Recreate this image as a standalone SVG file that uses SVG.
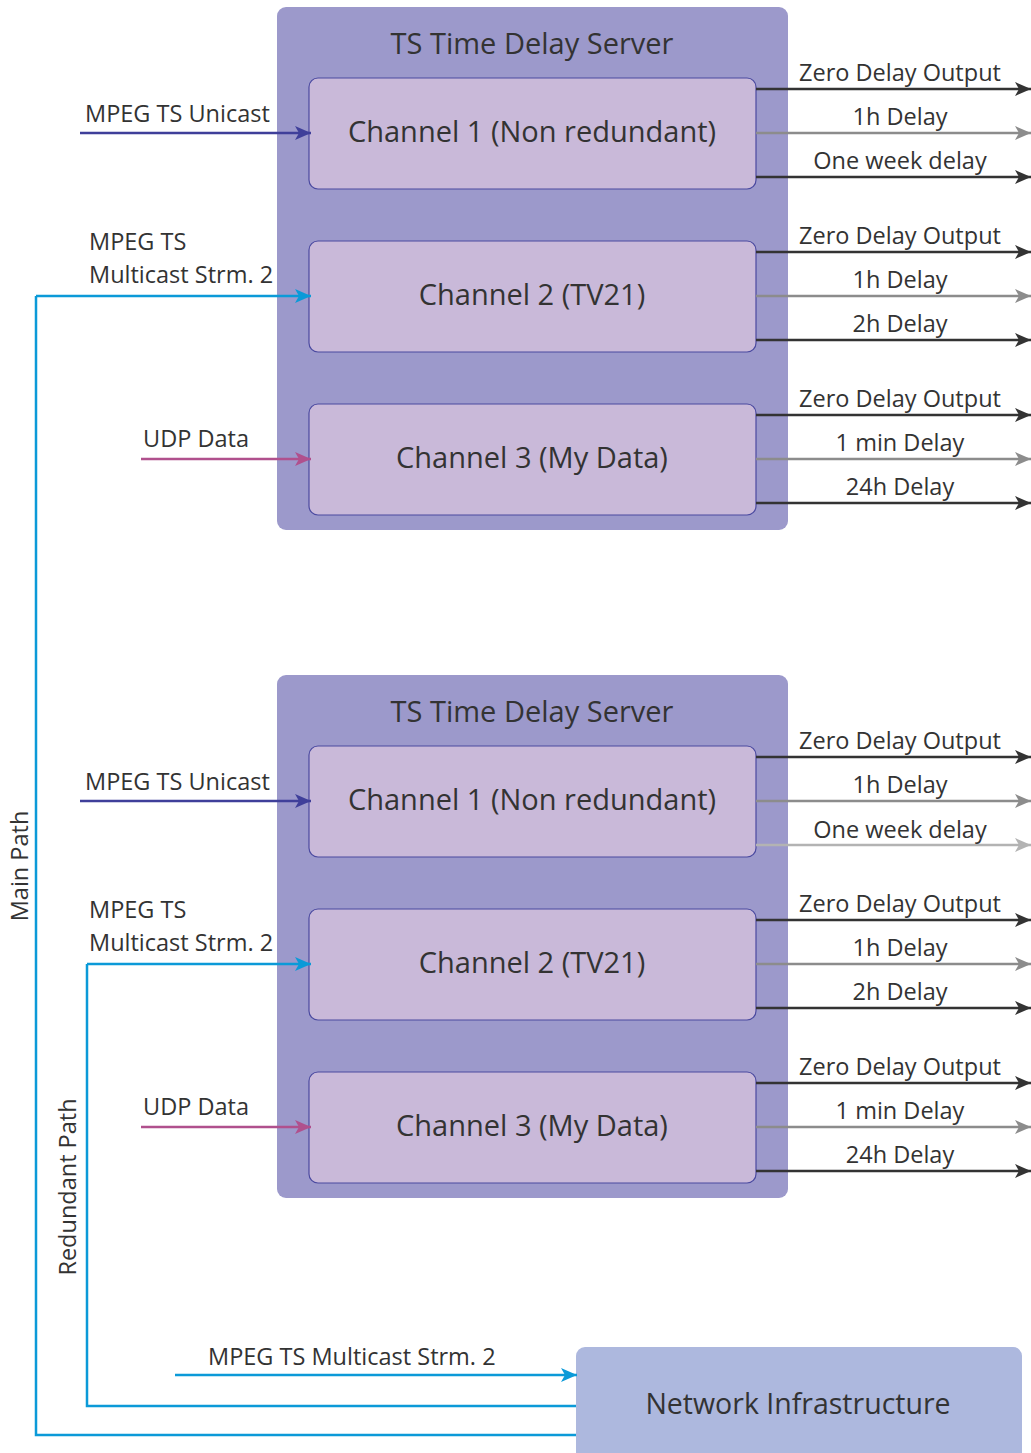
<svg xmlns="http://www.w3.org/2000/svg" width="1031" height="1453" viewBox="0 0 1031 1453">
<style>
.server{fill:#9c99cb}
.chan{fill:#c9b9d9;stroke:#4b4aa0;stroke-width:1.2}
.net{fill:#adb8de}
text{font-family:"Open Sans","Noto Sans","DejaVu Sans",sans-serif;fill:#333}
.title{font-size:29px;text-anchor:middle}
.clab{font-size:29px;text-anchor:middle}
.nlab{font-size:28.5px;text-anchor:middle}
.olab{font-size:23.5px;text-anchor:middle}
.ilab{font-size:23.5px}
.dk{stroke:#333;stroke-width:2.5;fill:none;marker-end:url(#ah-dk)}
.gr{stroke:#8c8c8c;stroke-width:2.5;fill:none;marker-end:url(#ah-gr)}
.lg{stroke:#b3b3b3;stroke-width:2.5;fill:none;marker-end:url(#ah-lg)}
.uni{stroke:#3f3f9a;stroke-width:2.5;fill:none;marker-end:url(#ah-uni)}
.udp{stroke:#b0508d;stroke-width:2.5;fill:none;marker-end:url(#ah-udp)}
.bl{stroke:#0b9ad8;stroke-width:2.5;fill:none}
.bla{stroke:#0b9ad8;stroke-width:2.5;fill:none;marker-end:url(#ah-bl)}
</style>
<defs>
<marker id="ah-dk" markerUnits="userSpaceOnUse" markerWidth="16" markerHeight="14" refX="16" refY="7" orient="auto"><path d="M0,0 L16,7 L0,14 L4,7 Z" fill="#333"/></marker>
<marker id="ah-gr" markerUnits="userSpaceOnUse" markerWidth="16" markerHeight="14" refX="16" refY="7" orient="auto"><path d="M0,0 L16,7 L0,14 L4,7 Z" fill="#8c8c8c"/></marker>
<marker id="ah-lg" markerUnits="userSpaceOnUse" markerWidth="16" markerHeight="14" refX="16" refY="7" orient="auto"><path d="M0,0 L16,7 L0,14 L4,7 Z" fill="#b3b3b3"/></marker>
<marker id="ah-uni" markerUnits="userSpaceOnUse" markerWidth="16" markerHeight="14" refX="16" refY="7" orient="auto"><path d="M0,0 L16,7 L0,14 L4,7 Z" fill="#3f3f9a"/></marker>
<marker id="ah-udp" markerUnits="userSpaceOnUse" markerWidth="16" markerHeight="14" refX="16" refY="7" orient="auto"><path d="M0,0 L16,7 L0,14 L4,7 Z" fill="#b0508d"/></marker>
<marker id="ah-bl" markerUnits="userSpaceOnUse" markerWidth="16" markerHeight="14" refX="16" refY="7" orient="auto"><path d="M0,0 L16,7 L0,14 L4,7 Z" fill="#0b9ad8"/></marker>
</defs>

<g id="server1">
<rect class="server" x="277" y="7" width="511" height="523" rx="9"/>
<text class="title" x="532" y="54">TS Time Delay Server</text>
</g>
<g id="s1-ch1"><rect class="chan" x="309" y="78" width="447" height="111" rx="9"/><text class="clab" x="532" y="142">Channel 1 (Non redundant)</text></g>
<g id="s1-ch2"><rect class="chan" x="309" y="241" width="447" height="111" rx="9"/><text class="clab" x="532" y="305">Channel 2 (TV21)</text></g>
<g id="s1-ch3"><rect class="chan" x="309" y="404" width="447" height="111" rx="9"/><text class="clab" x="532" y="468">Channel 3 (My Data)</text></g>

<g id="server2">
<rect class="server" x="277" y="675" width="511" height="523" rx="9"/>
<text class="title" x="532" y="722">TS Time Delay Server</text>
</g>
<g id="s2-ch1"><rect class="chan" x="309" y="746" width="447" height="111" rx="9"/><text class="clab" x="532" y="810">Channel 1 (Non redundant)</text></g>
<g id="s2-ch2"><rect class="chan" x="309" y="909" width="447" height="111" rx="9"/><text class="clab" x="532" y="973">Channel 2 (TV21)</text></g>
<g id="s2-ch3"><rect class="chan" x="309" y="1072" width="447" height="111" rx="9"/><text class="clab" x="532" y="1136">Channel 3 (My Data)</text></g>

<g id="network">
<rect class="net" x="576" y="1347" width="446" height="120" rx="9"/>
<text class="nlab" x="798" y="1414">Network Infrastructure</text>
</g>

<g id="connectors">
<path class="dk" d="M756,89 H1031"/><path class="gr" d="M756,133 H1031"/><path class="dk" d="M756,177 H1031"/>
<path class="dk" d="M756,252 H1031"/><path class="gr" d="M756,296 H1031"/><path class="dk" d="M756,340 H1031"/>
<path class="dk" d="M756,415 H1031"/><path class="gr" d="M756,459 H1031"/><path class="dk" d="M756,503 H1031"/>
<path class="dk" d="M756,757 H1031"/><path class="gr" d="M756,801 H1031"/><path class="lg" d="M756,845 H1031"/>
<path class="dk" d="M756,920 H1031"/><path class="gr" d="M756,964 H1031"/><path class="dk" d="M756,1008 H1031"/>
<path class="dk" d="M756,1083 H1031"/><path class="gr" d="M756,1127 H1031"/><path class="dk" d="M756,1171 H1031"/>
<path class="uni" d="M80,133 H311"/>
<path class="udp" d="M141,459 H311"/>
<path class="uni" d="M80,801 H311"/>
<path class="udp" d="M141,1127 H311"/>
<path class="bl" d="M576,1435 H36 V296"/>
<path class="bla" d="M36,296 H311"/>
<path class="bl" d="M576,1406 H87 V964"/>
<path class="bla" d="M87,964 H311"/>
<path class="bla" d="M175,1375 H577"/>

<text class="olab" x="900" y="81">Zero Delay Output</text>
<text class="olab" x="900" y="125">1h Delay</text>
<text class="olab" x="900" y="169">One week delay</text>
<text class="olab" x="900" y="244">Zero Delay Output</text>
<text class="olab" x="900" y="288">1h Delay</text>
<text class="olab" x="900" y="332">2h Delay</text>
<text class="olab" x="900" y="407">Zero Delay Output</text>
<text class="olab" x="900" y="451">1 min Delay</text>
<text class="olab" x="900" y="495">24h Delay</text>
<text class="olab" x="900" y="749">Zero Delay Output</text>
<text class="olab" x="900" y="793">1h Delay</text>
<text class="olab" x="900" y="838">One week delay</text>
<text class="olab" x="900" y="912">Zero Delay Output</text>
<text class="olab" x="900" y="956">1h Delay</text>
<text class="olab" x="900" y="1000">2h Delay</text>
<text class="olab" x="900" y="1075">Zero Delay Output</text>
<text class="olab" x="900" y="1119">1 min Delay</text>
<text class="olab" x="900" y="1163">24h Delay</text>
<text class="ilab" x="85" y="122">MPEG TS Unicast</text>
<text class="ilab" x="89" y="250">MPEG TS</text>
<text class="ilab" x="89" y="283">Multicast Strm. 2</text>
<text class="ilab" x="143" y="447">UDP Data</text>
<text class="ilab" x="85" y="790">MPEG TS Unicast</text>
<text class="ilab" x="89" y="918">MPEG TS</text>
<text class="ilab" x="89" y="951">Multicast Strm. 2</text>
<text class="ilab" x="143" y="1115">UDP Data</text>
<text class="ilab" x="208" y="1365">MPEG TS Multicast Strm. 2</text>
<text class="ilab" text-anchor="middle" transform="translate(28,866) rotate(-90)">Main Path</text>
<text class="ilab" text-anchor="middle" transform="translate(76,1187) rotate(-90)">Redundant Path</text>
</g>
</svg>
